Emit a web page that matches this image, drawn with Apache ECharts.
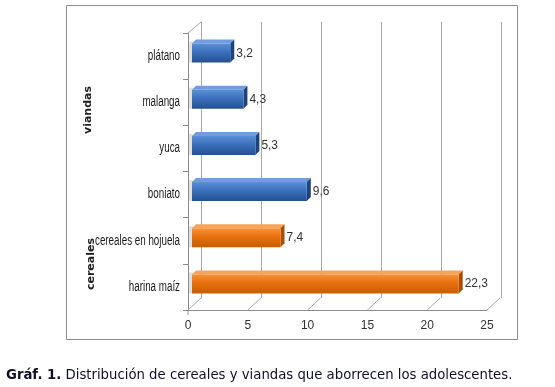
<!DOCTYPE html>
<html><head><meta charset="utf-8">
<script src="https://cdn.jsdelivr.net/npm/echarts@6/dist/echarts.min.js"></script>
<style>html,body{margin:0;padding:0;background:#fff}#c{width:555px;height:387px}</style>
</head><body><div id="c"></div>
<script>
const categories = ['plátano','malanga','yuca','boniato','cereales en hojuela','harina maíz'];
const values = [3.2, 4.3, 5.3, 9.6, 7.4, 22.3];
const groups = ['viandas','viandas','viandas','viandas','cereales','cereales'];
const groupNames = ['viandas','cereales'];
const tickValues = [0, 5, 10, 15, 20, 25];
const caption = ['Gráf. 1.', ' Distribución de cereales y viandas que aborrecen los adolescentes.'];

const sans = '"Liberation Sans", Arial, sans-serif';
const palette = {
  viandas: {front: ['#5b8fd6', '#3b70bd', '#24508f'], top: '#6f9de0', side: '#1d437c'},
  cereales: {front: ['#f6923a', '#e8700c', '#c75d02'], top: '#f7a458', side: '#a94d00'}
};

const chart = echarts.init(document.getElementById('c'));

function grad(c){
  return new echarts.graphic.LinearGradient(0,0,0,1,[
    {offset:0,color:c[0]},{offset:0.45,color:c[1]},{offset:1,color:c[2]}]);
}

chart.setOption({
  animation:false,
  grid:[
    {left:188, right:68, top:33, bottom:77},
    {left:201, right:54, top:22, bottom:89}
  ],
  xAxis:[
    {gridIndex:0, type:'value', min:0, max:25, interval:5,
     axisLine:{show:true, lineStyle:{color:'#8c8c8c'}},
     axisTick:{show:false},
     splitLine:{show:false},
     axisLabel:{color:'#333', fontSize:12, fontFamily:sans, margin:10}},
    {gridIndex:1, type:'value', min:0, max:25, interval:5,
     axisLine:{show:false}, axisTick:{show:false}, axisLabel:{show:false},
     splitLine:{show:true, lineStyle:{color:'#a8a8a8'}}}
  ],
  yAxis:[
    {gridIndex:0, type:'category', data:categories, inverse:true,
     axisLine:{show:true, lineStyle:{color:'#8c8c8c'}},
     axisTick:{show:true, length:5, lineStyle:{color:'#8c8c8c'}},
     axisLabel:{show:false}},
    {gridIndex:1, type:'category', data:categories, inverse:true,
     axisLine:{show:true, lineStyle:{color:'#a8a8a8'}},
     axisTick:{show:false}, axisLabel:{show:false}}
  ],
  series:[
    {
      type:'custom', xAxisIndex:0, yAxisIndex:0, z:1, silent:true,
      data: tickValues.map(v=>[v,0]),
      encode:{x:0,y:1},
      renderItem:function(params, api){
        const v = api.value(0);
        const x = api.coord([v,0])[0];
        const cs = params.coordSys;
        const fy = cs.y + cs.height;
        const ch = [{type:'line', shape:{x1:x, y1:fy, x2:x+13, y2:fy-12},
                     style:{stroke:'#a8a8a8', lineWidth:1}}];
        if (v === 0) {
          ch.push({type:'line', shape:{x1:x, y1:cs.y, x2:x+13, y2:cs.y-11},
                   style:{stroke:'#a8a8a8', lineWidth:1}});
          ch.push({type:'line', shape:{x1:x, y1:fy, x2:x, y2:fy+5},
                   style:{stroke:'#8c8c8c', lineWidth:1}});
        }
        return {type:'group', children:ch};
      }
    },
    {
      type:'custom', xAxisIndex:0, yAxisIndex:0, z:3, silent:true,
      data: values.map((v,i)=>[v,i]),
      encode:{x:0,y:1},
      renderItem:function(params, api){
        const i = params.dataIndex;
        const v = api.value(0);
        const p0 = api.coord([0, api.value(1)]);
        const p1 = api.coord([v, api.value(1)]);
        const pal = palette[groups[i]];
        const dx = 4, dy = -3, d = 4, h = 19;
        const x0 = p0[0] + dx, x1 = p1[0] + dx;
        const yt = p0[1] + dy - h/2, yb = yt + h;
        return {type:'group', children:[
          {type:'rect', shape:{x:p0[0]+1, y:yt-2, width:4, height:h+2},
           style:{fill:'rgba(0,0,0,0.12)'}},
          {type:'polygon', shape:{points:[[x0,yt],[x0+d,yt-d],[x1+d,yt-d],[x1,yt]]},
           style:{fill:pal.top}},
          {type:'polygon', shape:{points:[[x1,yt],[x1+d,yt-d],[x1+d,yb-d],[x1,yb]]},
           style:{fill:pal.side}},
          {type:'rect', shape:{x:x0, y:yt, width:x1-x0, height:h},
           style:{fill:grad(pal.front)}},
          {type:'text', x:x1+d+2, y:yt+h/2, scaleX:0.92,
           style:{text:String(v).replace('.', ','), fill:'#333', fontSize:13,
                  fontFamily:sans, verticalAlign:'middle', align:'left'}},
          {type:'text', x:p0[0]-8, y:p0[1], scaleX:0.7,
           style:{text:categories[i], fill:'#1a1a1a', fontSize:14,
                  fontFamily:sans, verticalAlign:'middle', align:'right'}}
        ]};
      }
    }
  ],
  graphic:[
    {type:'rect', shape:{x:66.5, y:5.5, width:451, height:334},
     style:{fill:'none', stroke:'#8c8c8c', lineWidth:1}, z:0},
    {type:'text', x:88, y:110, rotation:Math.PI/2, z:5,
     style:{text:groupNames[0], fill:'#222', font:'bold 11px "DejaVu Sans", Verdana, sans-serif',
            align:'center', verticalAlign:'middle'}},
    {type:'text', x:91, y:264, rotation:Math.PI/2, z:5,
     style:{text:groupNames[1], fill:'#222', font:'bold 11px "DejaVu Sans", Verdana, sans-serif',
            align:'center', verticalAlign:'middle'}},
    {type:'text', x:6, y:376, z:5,
     style:{rich:{b:{fontWeight:'bold', fontSize:13.25, fontFamily:'"DejaVu Sans", Verdana, sans-serif', fill:'#10102a'},
                  n:{fontSize:13.25, fontFamily:'"DejaVu Sans", Verdana, sans-serif', fill:'#10102a'}},
            text:'{b|'+caption[0]+'}{n|'+caption[1]+'}', verticalAlign:'middle'}}
  ]
});
</script></body></html>
